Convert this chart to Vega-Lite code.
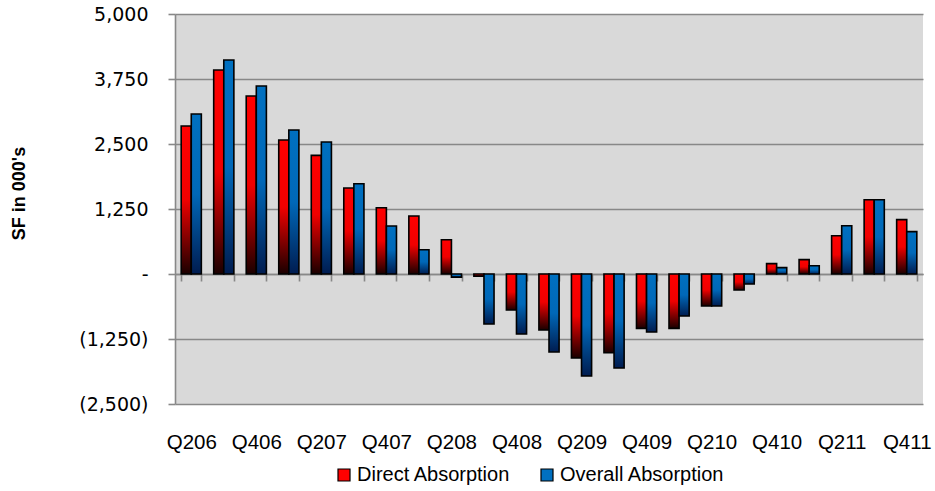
{
  "$schema": "https://vega.github.io/schema/vega-lite/v6.json",
  "autosize": {"type": "none"},
  "width": 748,
  "height": 390,
  "padding": {"left": 175, "top": 14, "right": 12, "bottom": 87},
  "background": "white",
  "config": {
    "view": {"fill": "#D9D9D9", "stroke": null},
    "font": "Liberation Sans"
  },
  "data": {
    "values": [
      {"q": "Q206", "series": "Direct Absorption", "v": 2846}, {"q": "Q206", "series": "Overall Absorption", "v": 3077},
      {"q": "Q306", "series": "Direct Absorption", "v": 3923}, {"q": "Q306", "series": "Overall Absorption", "v": 4115},
      {"q": "Q406", "series": "Direct Absorption", "v": 3423}, {"q": "Q406", "series": "Overall Absorption", "v": 3615},
      {"q": "Q107", "series": "Direct Absorption", "v": 2577}, {"q": "Q107", "series": "Overall Absorption", "v": 2769},
      {"q": "Q207", "series": "Direct Absorption", "v": 2282}, {"q": "Q207", "series": "Overall Absorption", "v": 2538},
      {"q": "Q307", "series": "Direct Absorption", "v": 1654}, {"q": "Q307", "series": "Overall Absorption", "v": 1737},
      {"q": "Q407", "series": "Direct Absorption", "v": 1275}, {"q": "Q407", "series": "Overall Absorption", "v": 923},
      {"q": "Q108", "series": "Direct Absorption", "v": 1115}, {"q": "Q108", "series": "Overall Absorption", "v": 467},
      {"q": "Q208", "series": "Direct Absorption", "v": 660}, {"q": "Q208", "series": "Overall Absorption", "v": -60},
      {"q": "Q308", "series": "Direct Absorption", "v": -40}, {"q": "Q308", "series": "Overall Absorption", "v": -962},
      {"q": "Q408", "series": "Direct Absorption", "v": -692}, {"q": "Q408", "series": "Overall Absorption", "v": -1154},
      {"q": "Q109", "series": "Direct Absorption", "v": -1077}, {"q": "Q109", "series": "Overall Absorption", "v": -1500},
      {"q": "Q209", "series": "Direct Absorption", "v": -1615}, {"q": "Q209", "series": "Overall Absorption", "v": -1962},
      {"q": "Q309", "series": "Direct Absorption", "v": -1513}, {"q": "Q309", "series": "Overall Absorption", "v": -1808},
      {"q": "Q409", "series": "Direct Absorption", "v": -1045}, {"q": "Q409", "series": "Overall Absorption", "v": -1115},
      {"q": "Q110", "series": "Direct Absorption", "v": -1045}, {"q": "Q110", "series": "Overall Absorption", "v": -808},
      {"q": "Q210", "series": "Direct Absorption", "v": -615}, {"q": "Q210", "series": "Overall Absorption", "v": -615},
      {"q": "Q310", "series": "Direct Absorption", "v": -308}, {"q": "Q310", "series": "Overall Absorption", "v": -192},
      {"q": "Q410", "series": "Direct Absorption", "v": 199}, {"q": "Q410", "series": "Overall Absorption", "v": 122},
      {"q": "Q111", "series": "Direct Absorption", "v": 276}, {"q": "Q111", "series": "Overall Absorption", "v": 160},
      {"q": "Q211", "series": "Direct Absorption", "v": 737}, {"q": "Q211", "series": "Overall Absorption", "v": 929},
      {"q": "Q311", "series": "Direct Absorption", "v": 1429}, {"q": "Q311", "series": "Overall Absorption", "v": 1429},
      {"q": "Q411", "series": "Direct Absorption", "v": 1045}, {"q": "Q411", "series": "Overall Absorption", "v": 814}
    ]
  },
  "mark": {"type": "bar", "stroke": "black", "strokeWidth": 1.6},
  "encoding": {
    "x": {
      "field": "q", "type": "nominal", "sort": null,
      "scale": {"paddingInner": 0.38, "paddingOuter": 0.19},
      "axis": {
        "title": null,
        "orient": "bottom",
        "offset": -130,
        "domain": true, "domainColor": "#888888", "domainWidth": 1.6,
        "ticks": true, "tickColor": "#888888", "tickWidth": 1.6, "tickSize": 7, "tickBand": "extent",
        "labelPadding": 151,
        "labelAngle": 0,
        "labelOverlap": false,
        "labelFont": "Liberation Sans",
        "labelFontSize": 20.5,
        "labelColor": "black",
        "labelExpr": "indexof(['Q206','Q406','Q207','Q407','Q208','Q408','Q209','Q409','Q210','Q410','Q211','Q411'], datum.value) >= 0 ? datum.label : ''"
      }
    },
    "xOffset": {"field": "series", "type": "nominal", "scale": {"paddingInner": 0, "paddingOuter": 0}},
    "y": {
      "field": "v", "type": "quantitative",
      "scale": {"domain": [-2500, 5000], "nice": false, "zero": false},
      "axis": {
        "title": "SF in 000's",
        "titleFont": "Liberation Sans",
        "titleFontSize": 18, "titleFontWeight": "bold", "titleColor": "black",
        "titlePadding": 50,
        "titleY": 179,
        "values": [-2500, -1250, 0, 1250, 2500, 3750, 5000],
        "labelExpr": "datum.value == 0 ? '-' : (datum.value < 0 ? '(' + format(-datum.value, ',') + ')' : format(datum.value, ','))",
        "labelFont": "DejaVu Sans",
        "labelFontSize": 19, "labelColor": "black", "labelPadding": 20,
        "domainColor": "#888888", "domainWidth": 1.6,
        "tickColor": "#888888", "tickWidth": 1.6, "tickSize": 7,
        "grid": true, "gridColor": "#888888", "gridWidth": 1.6
      }
    },
    "color": {
      "field": "series", "type": "nominal",
      "scale": {"domain": ["Direct Absorption", "Overall Absorption"], "range": ["#FF0000", "#0070C0"]},
      "condition": [
        {"test": "datum.series == 'Direct Absorption'", "value": {"gradient": "linear", "x1": 0, "y1": 0, "x2": 0, "y2": 1, "stops": [{"offset": 0, "color": "#FF0000"}, {"offset": 0.5, "color": "#F00000"}, {"offset": 1, "color": "#1A0000"}]}},
        {"test": "datum.series == 'Overall Absorption'", "value": {"gradient": "linear", "x1": 0, "y1": 0, "x2": 0, "y2": 1, "stops": [{"offset": 0, "color": "#0070C0"}, {"offset": 0.5, "color": "#0068B8"}, {"offset": 1, "color": "#001C50"}]}}
      ],
      "legend": {
        "title": null,
        "orient": "none",
        "legendX": 159,
        "legendY": 451,
        "direction": "horizontal",
        "symbolType": "square",
        "symbolSize": 144,
        "symbolStrokeColor": "black",
        "symbolStrokeWidth": 1.2,
        "labelFont": "Liberation Sans",
        "labelFontSize": 20,
        "labelLimit": 400,
        "labelColor": "black",
        "labelOffset": 3,
        "columnPadding": 26,
        "encode": {
          "symbols": {
            "update": {
              "fill": {"signal": "datum.value == 'Direct Absorption' ? {gradient: 'linear', x1: 0, y1: 0, x2: 0, y2: 1, stops: [{offset: 0, color: '#FF0000'}, {offset: 0.4, color: '#F00000'}, {offset: 1, color: '#200000'}]} : {gradient: 'linear', x1: 0, y1: 0, x2: 0, y2: 1, stops: [{offset: 0, color: '#0070C0'}, {offset: 0.4, color: '#0068B8'}, {offset: 1, color: '#001C50'}]}"},
              "stroke": {"value": "black"}
            }
          }
        }
      }
    }
  }
}
